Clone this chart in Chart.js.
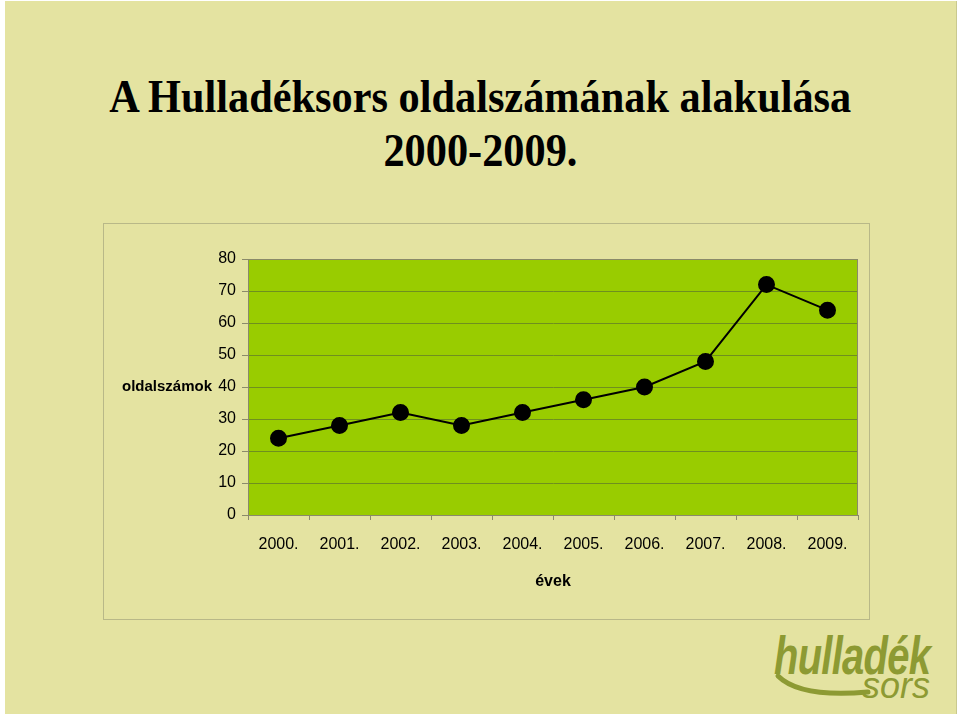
<!DOCTYPE html>
<html>
<head>
<meta charset="utf-8">
<script src="https://cdn.jsdelivr.net/npm/chart.js@4.4.1/dist/chart.umd.min.js"></script>
<style>
  body { margin: 0; background: #fff; width: 960px; height: 716px; overflow: hidden; position: relative; }
  #page { position: absolute; left: 5px; top: 1px; width: 951px; height: 713px; background: #e4e3a1; border-right: 1px solid #c9c98e; }
  .title { position: absolute; left: 0; width: 960px; text-align: center; font-family: "Liberation Serif", "Times New Roman", serif; font-weight: bold; font-size: 46px; color: #000; white-space: nowrap; }
  .title span { display: inline-block; transform: scaleX(0.92); transform-origin: center; }
  #panel { position: absolute; left: 103px; top: 223px; width: 765px; height: 395px; border: 1px solid #b8b888; }
  #logo { position: absolute; left: 770px; top: 628px; width: 180px; height: 84px; font-family: "Liberation Sans", Arial, sans-serif; color: #8d9a33; }
  #logo .h { position: absolute; left: 4px; top: -4px; font-size: 54px; font-weight: bold; font-style: italic; letter-spacing: -1px; transform: scaleX(0.74); transform-origin: left; white-space: nowrap; }
  #logo .s { position: absolute; left: 92px; top: 37px; font-size: 36px; font-style: italic; font-weight: normal; }
  #logo svg { position: absolute; left: 0; top: 0; }
</style>
</head>
<body>
<div id="page"></div>
<div class="title" style="top:70px"><span>A Hulladéksors oldalszámának alakulása</span></div>
<div class="title" style="top:124px"><span>2000-2009.</span></div>
<div id="panel"><canvas id="myChart"></canvas></div>
<div id="logo">
  <svg width="180" height="84"><path d="M8 48 Q 30 70 98 64" stroke="#8d9a33" stroke-width="5" fill="none" stroke-linecap="round"/></svg>
  <span class="h">hulladék</span><span class="s">sors</span>
</div>
<script>
var evek = ['2000.', '2001.', '2002.', '2003.', '2004.', '2005.', '2006.', '2007.', '2008.', '2009.']
var oldalszamok = [24, 28, 32, 28, 32, 36, 40, 48, 72, 64]
var yTicks = [0, 10, 20, 30, 40, 50, 60, 70, 80]

var betu = '"Liberation Sans", Arial, sans-serif'

// zöld háttér + keret a rajzterületre
var plotBg = {
    id: 'plotBg',
    beforeDraw: function (chart) {
        var a = chart.chartArea
        var ctx = chart.ctx
        ctx.save()
        ctx.fillStyle = '#99cc00'
        ctx.fillRect(a.left, a.top, a.right - a.left, a.bottom - a.top)
        ctx.restore()
    },
    afterDatasetsDraw: function (chart) {
        var a = chart.chartArea
        var ctx = chart.ctx
        ctx.save()
        ctx.strokeStyle = '#8a8a6a'
        ctx.lineWidth = 1
        ctx.strokeRect(a.left + 0.5, a.top + 0.5, a.right - a.left - 1, a.bottom - a.top)
        ctx.restore()
    }
}

// vízszintes y tengely cím a 40-es szintnél
var yTitle = {
    id: 'yTitle',
    afterDraw: function (chart) {
        var y = chart.scales.y.getPixelForValue(40)
        var ctx = chart.ctx
        ctx.save()
        ctx.font = 'bold 15px ' + betu
        ctx.fillStyle = '#000'
        ctx.textAlign = 'left'
        ctx.textBaseline = 'middle'
        ctx.fillText('oldalszámok', 18, y)
        ctx.restore()
    }
}

const data = {
    labels: evek,
    datasets: [{
        label: 'oldalszámok',
        data: oldalszamok,
        borderColor: '#000',
        backgroundColor: '#000',
        borderWidth: 2,
        pointRadius: 7.5,
        pointHoverRadius: 7.5,
        tension: 0
    }]
}

const config = {
    type: 'line',
    data: data,
    options: {
        responsive: true,
        maintainAspectRatio: false,
        animation: false,
        layout: { padding: { top: 35, right: 11, left: 0, bottom: 24 } },
        plugins: {
            legend: { display: false },
            tooltip: { enabled: false }
        },
        scales: {
            x: {
                offset: true,
                grid: { offset: true, drawOnChartArea: false, drawTicks: true, tickLength: 5, color: '#8a8a6a' },
                border: { color: '#8a8a6a' },
                ticks: { color: '#000', font: { family: betu, size: 16 }, padding: 15, maxRotation: 0 },
                title: { display: true, text: 'évek', color: '#000', font: { family: betu, size: 16, weight: 'bold' }, padding: { top: 8 } },
                afterFit: function (s) { s.height = 80 }
            },
            y: {
                min: 0,
                max: 80,
                afterBuildTicks: function (s) { s.ticks = yTicks.map(function (v) { return { value: v } }) },
                grid: { color: '#6f8f1f', tickLength: 6, tickColor: '#8a8a6a' },
                border: { color: '#8a8a6a' },
                ticks: { color: '#000', font: { family: betu, size: 16 }, padding: 6 },
                afterFit: function (s) { s.width = 144 }
            }
        }
    },
    plugins: [plotBg, yTitle]
}

const myChart = new Chart(document.getElementById('myChart'), config)
</script>
</body>
</html>
